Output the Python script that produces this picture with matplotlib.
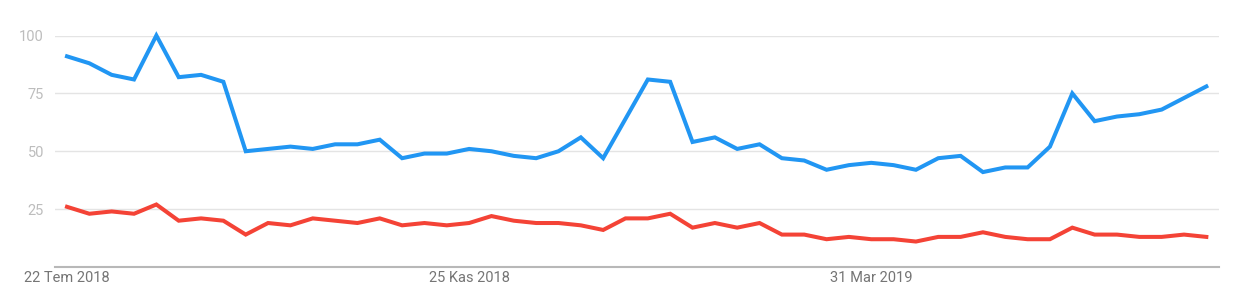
import matplotlib
matplotlib.use("Agg")
import matplotlib.pyplot as plt

# Weekly interest (0-100), 52 weeks starting 22 Jul 2018
weeks = list(range(52))
series_blue = [91, 88, 83, 81, 100, 82, 83, 80, 50, 51, 52, 51, 53, 53, 55, 47,
               49, 49, 51, 50, 48, 47, 50, 56, 47, 64, 81, 80, 54, 56, 51, 53,
               47, 46, 42, 44, 45, 44, 42, 47, 48, 41, 43, 43, 52, 75, 63, 65,
               66, 68, 73, 78]
series_red = [26, 23, 24, 23, 27, 20, 21, 20, 14, 19, 18, 21, 20, 19, 21, 18,
              19, 18, 19, 22, 20, 19, 19, 18, 16, 21, 21, 23, 17, 19, 17, 19,
              14, 14, 12, 13, 12, 12, 11, 13, 13, 15, 13, 12, 12, 17, 14, 14,
              13, 13, 14, 13]
x_tick_pos = [0, 18, 36]
x_tick_labels = ["22 Tem 2018", "25 Kas 2018", "31 Mar 2019"]
y_ticks = [25, 50, 75, 100]

plt.rcParams["font.family"] = ["Roboto", "DejaVu Sans"]

W, H = 1246, 301
fig = plt.figure(figsize=(W / 100, H / 100), dpi=100)
left_px, right_px = 55, 1219
bottom_px, top_px = 267, 35.5
ax = fig.add_axes([left_px / W, (H - bottom_px) / H,
                   (right_px - left_px) / W, (bottom_px - top_px) / H])

step = 22.34
ax.set_xlim((left_px - 67) / step, (right_px - 67) / step)
ax.set_ylim(0, 100)

for y in y_ticks:
    ax.axhline(y, color="#e4e4e4", lw=1.0, zorder=1)

ax.plot(weeks, series_blue, color="#2196F3", lw=2.9, solid_joinstyle="miter",
        clip_on=False, zorder=3)
ax.plot(weeks, series_red, color="#F44336", lw=2.9, solid_joinstyle="miter",
        clip_on=False, zorder=3)

for s in ["top", "right", "left"]:
    ax.spines[s].set_visible(False)
ax.spines["bottom"].set_color("#b8b8b8")
ax.spines["bottom"].set_linewidth(1.5)

ax.set_yticks(y_ticks)
ax.set_yticklabels([str(v) for v in y_ticks])
ax.tick_params(axis="y", length=0, pad=8, labelsize=10.5, labelcolor="#bdbdbd")
ax.set_xticks(x_tick_pos)
ax.set_xticklabels(x_tick_labels)
ax.tick_params(axis="x", length=0, pad=3, labelsize=10.5, labelcolor="#757575")

fig.savefig("out.png", dpi=100, facecolor="white")
